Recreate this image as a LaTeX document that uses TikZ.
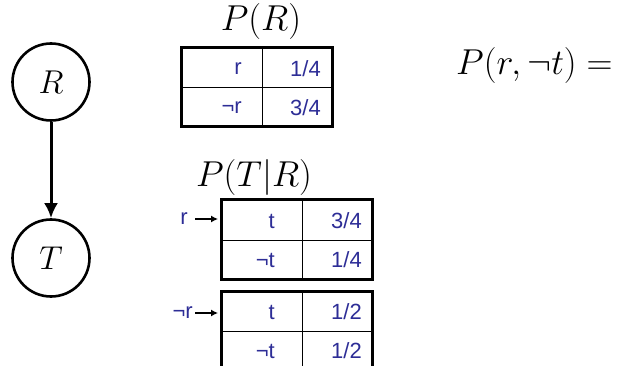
\RequirePackage{fix-cm}
\documentclass[tikz,border=0pt]{standalone}
\usepackage{fontspec}
\newfontfamily\tabfont{Liberation Sans}
\usetikzlibrary{arrows.meta}
\definecolor{tblue}{RGB}{45,45,150}
\begin{document}
\begin{tikzpicture}[x=1pt,y=-1pt,
  varnode/.style={draw,circle,line width=2.6pt,minimum size=77pt,inner sep=0pt,font=\fontsize{33}{38}\selectfont},
  outerbox/.style={draw,line width=3pt,line join=miter,inner sep=0pt},
  inner/.style={line width=1pt},
  cell/.style={anchor=east,text=tblue,inner sep=0pt,font=\tabfont\fontsize{22}{26}\selectfont},
  lab/.style={text=tblue,inner sep=0pt,font=\tabfont\fontsize{22}{26}\selectfont},
  mathlbl/.style={inner sep=0pt,font=\fontsize{36}{42}\selectfont},
  small/.style={-{Latex[length=7pt,width=7pt]},line width=1.2pt}]
\useasboundingbox (0,0) rectangle (618,366);
% network
\node[varnode] (R) at (51,82) {$R$};
\node[varnode] (T) at (51,258) {$T$};
\draw[line width=3pt,-{Latex[length=15pt,width=14pt]}] (R) -- (T);
% P(R)
\node[mathlbl] (pr) at (261,22) {$P(R)$};
\node[outerbox,minimum width=151pt,minimum height=79pt] (t1) at (256.5,87.5) {};
\coordinate (t1a) at (262,48); \coordinate (t1b) at (262,127);
\coordinate (t1c) at (181,88); \coordinate (t1d) at (332,88);
\draw[inner] (t1a) -- (t1b);
\draw[inner] (t1c) -- (t1d);
\node[cell] (c11) at (242,69) {r};
\node[cell] (c12) at (321,69) {1/4};
\node[cell] (c21) at (242,108) {¬r};
\node[cell] (c22) at (321,108) {3/4};
% P(T|R)
\node[mathlbl] (ptr) at (254,178) {$P(T|R)$};
\node[outerbox,minimum width=151pt,minimum height=79pt] (t2) at (296.5,239.5) {};
\coordinate (t2a) at (302,200); \coordinate (t2b) at (302,279);
\coordinate (t2c) at (221,240); \coordinate (t2d) at (372,240);
\draw[inner] (t2a) -- (t2b);
\draw[inner] (t2c) -- (t2d);
\node[cell] (d11) at (275,221) {t};
\node[cell] (d12) at (362,221) {3/4};
\node[cell] (d21) at (275,260) {¬t};
\node[cell] (d22) at (362,260) {1/4};
% third table (cut off)
\coordinate (t3bl) at (221,368); \coordinate (t3tl) at (221,291);
\coordinate (t3tr) at (372,291); \coordinate (t3br) at (372,368);
\draw[line width=3pt,line join=miter] (t3bl) -- (t3tl) -- (t3tr) -- (t3br);
\coordinate (t3a) at (302,291); \coordinate (t3b) at (302,368);
\coordinate (t3c) at (221,331); \coordinate (t3d) at (372,331);
\draw[inner] (t3a) -- (t3b);
\draw[inner] (t3c) -- (t3d);
\node[cell] (e11) at (275,312) {t};
\node[cell] (e12) at (362,312) {1/2};
\node[cell] (e21) at (275,351) {¬t};
\node[cell] (e22) at (362,351) {1/2};
% row labels
\node[lab,anchor=east] (lr) at (188,219) {r};
\coordinate (lrs) at (195,219);
\coordinate (ar) at (218,219);
\draw[small] (lrs) -- (ar);
\node[lab,anchor=east] (lnr) at (193,313) {¬r};
\coordinate (lnrs) at (195,313);
\coordinate (anr) at (218,313);
\draw[small] (lnrs) -- (anr);
% query
\node[mathlbl,anchor=west] (q) at (456,66) {$P(r,\neg t) =$};
\end{tikzpicture}
\end{document}
